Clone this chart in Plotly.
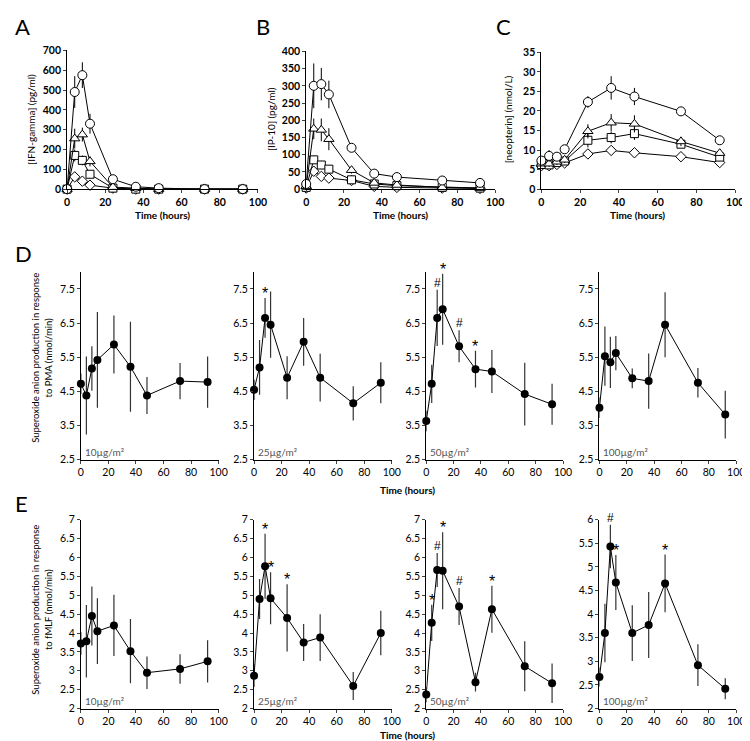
import plotly.graph_objects as go

W, H = 750, 741
times = [0, 4, 8, 12, 24, 36, 48, 72, 92]
x_ticks = [0, 20, 40, 60, 80, 100]

# Panel A: IFN-gamma (pg/ml)
ifn_circle = [0, 490, 575, 330, 50, 12, 5, 0, 0]
ifn_circle_err = [0, 80, 65, 50, 10, 3, 2, 0, 0]
ifn_triangle = [0, 255, 275, 140, 10, 5, 0, 0, 0]
ifn_triangle_err = [0, 50, 35, 25, 5, 2, 0, 0, 0]
ifn_square = [0, 170, 145, 75, 5, 0, 0, 0, 0]
ifn_square_err = [0, 30, 25, 15, 3, 0, 0, 0, 0]
ifn_diamond = [0, 62, 40, 20, 5, 0, 0, 0, 0]
ifn_diamond_err = [0, 12, 10, 6, 2, 0, 0, 0, 0]

# Panel B: IP-10 (pg/ml)
ip_circle = [15, 300, 305, 275, 120, 45, 35, 25, 18]
ip_circle_err = [3, 65, 47, 40, 12, 5, 4, 3, 3]
ip_triangle = [8, 175, 172, 145, 55, 18, 12, 5, 3]
ip_triangle_err = [2, 30, 33, 32, 10, 4, 3, 2, 1]
ip_square = [5, 85, 70, 58, 27, 15, 10, 5, 3]
ip_square_err = [2, 12, 12, 10, 6, 3, 2, 1, 1]
ip_diamond = [3, 52, 37, 32, 25, 8, 5, 3, 2]
ip_diamond_err = [1, 12, 12, 10, 6, 3, 2, 1, 1]

# Panel C: neopterin (nmol/L)
neo_circle = [7.3, 8.5, 8.3, 10.2, 22.3, 25.9, 23.7, 19.9, 12.5]
neo_circle_err = [0.8, 1.5, 1.0, 1.0, 1.5, 3.0, 2.2, 0.6, 0.6]
neo_triangle = [6.5, 6.5, 7.0, 7.5, 14.8, 17.0, 16.7, 12.2, 9.2]
neo_triangle_err = [0.6, 0.8, 0.8, 0.8, 1.8, 2.2, 2.2, 1.2, 0.6]
neo_square = [6.3, 6.2, 6.8, 7.2, 12.5, 13.2, 14.2, 11.5, 8.2]
neo_square_err = [0.5, 0.6, 0.6, 0.6, 1.8, 1.5, 1.6, 0.8, 0.5]
neo_diamond = [6.0, 6.0, 6.3, 6.7, 9.0, 9.9, 9.3, 8.3, 6.8]
neo_diamond_err = [0.4, 0.4, 0.4, 0.4, 0.6, 0.9, 0.7, 0.5, 0.4]

# Panel D: superoxide, PMA (nmol/min)
doses = ["10µg/m²", "25µg/m²", "50µg/m²", "100µg/m²"]
pma_vals = [
    [4.72, 4.38, 5.17, 5.42, 5.87, 5.22, 4.38, 4.80, 4.77],
    [4.55, 5.20, 6.65, 6.45, 4.90, 5.95, 4.90, 4.15, 4.75],
    [3.63, 4.72, 6.65, 6.90, 5.82, 5.15, 5.08, 4.42, 4.12],
    [4.02, 5.53, 5.35, 5.62, 4.88, 4.80, 6.45, 4.75, 3.82],
]
pma_errs = [
    [0.3, 1.14, 0.65, 1.40, 0.85, 1.32, 0.54, 0.53, 0.75],
    [0.3, 0.80, 0.58, 0.97, 0.63, 0.70, 0.70, 0.50, 0.60],
    [0.3, 0.56, 0.82, 1.04, 0.47, 0.54, 0.63, 0.92, 0.60],
    [0.3, 0.87, 0.75, 0.50, 0.29, 0.81, 0.95, 0.43, 0.70],
]
pma_marks = [
    {},
    {2: "*"},
    {2: "#", 3: "*", 4: "#", 5: "*"},
    {},
]

# Panel E: superoxide, fMLF (nmol/min)
fmlf_vals = [
    [3.72, 3.78, 4.45, 4.05, 4.20, 3.52, 2.95, 3.05, 3.25],
    [2.87, 4.90, 5.77, 4.92, 4.40, 3.75, 3.88, 2.60, 4.00],
    [2.37, 4.27, 5.67, 5.65, 4.70, 2.70, 4.63, 3.12, 2.67],
    [2.67, 3.60, 5.43, 4.67, 3.60, 3.77, 4.65, 2.92, 2.42],
]
fmlf_errs = [
    [0.3, 0.96, 0.78, 0.87, 0.81, 0.85, 0.43, 0.39, 0.56],
    [0.3, 0.53, 0.86, 0.69, 0.89, 0.49, 0.62, 0.37, 0.59],
    [0.2, 0.48, 0.45, 1.02, 0.49, 0.25, 0.62, 0.66, 0.52],
    [0.2, 0.62, 0.46, 0.58, 0.59, 0.70, 0.61, 0.44, 0.22],
]
fmlf_marks = [
    {},
    {2: "*", 3: "*", 4: "*"},
    {1: "*", 2: "#", 3: "*", 4: "#", 6: "*"},
    {2: "#", 3: "*", 6: "*"},
]

def fx(p):
    return p / W

def fy(p):
    return 1 - p / H

fig = go.Figure()
FONT = "Lato"
SYMFONT = "Liberation Sans"

# axis specs: (x_px_left, x_px_right, y_px_bottom, y_px_top, yrange, dtick, tick0, bold)
specs = [
    (57, 251, 178, 37, [0, 700], 100, 0, True),
    (300, 492, 178, 38, [0, 400], 50, 0, True),
    (539, 736, 178, 39, [0, 35], 5, 0, True),
]
d_x = [(71, 211), (247, 387), (422, 561), (598, 737)]
for (a, b) in d_x:
    specs.append((a, b, 453, 262, [2.5, 8], 1, 2.5, False))
for i, (a, b) in enumerate(d_x):
    rng = [2, 6] if i == 3 else [2, 7]
    specs.append((a, b, 706, 514, rng, 0.5, 2, False))

for i, (xl, xr, yb, yt, yr, dt, t0, bold) in enumerate(specs):
    n = "" if i == 0 else str(i + 1)
    tf = dict(family=FONT, size=10.5, color="#000000", weight="bold" if bold else "normal")
    fig.layout["xaxis" + n] = dict(
        domain=[fx(xl), fx(xr)], anchor="y" + n, range=[0, 100],
        tickmode="array", tickvals=x_ticks, ticks="outside", ticklen=3,
        showline=True, linecolor="black", linewidth=1, showgrid=False,
        zeroline=False, tickfont=tf, fixedrange=True,
    )
    fig.layout["yaxis" + n] = dict(
        domain=[fy(yb), fy(yt)], anchor="x" + n, range=yr,
        tick0=t0, dtick=dt, ticks="outside", ticklen=3,
        showline=True, linecolor="black", linewidth=1, showgrid=False,
        zeroline=False, tickfont=tf, fixedrange=True,
    )

def add_open(xa, ya, vals, errs, symbol, size):
    fig.add_trace(go.Scatter(
        x=times, y=vals, xaxis=xa, yaxis=ya, mode="lines+markers",
        line=dict(color="black", width=1),
        marker=dict(symbol=symbol, size=size, color="white",
                    line=dict(color="black", width=1)),
        error_y=dict(type="data", array=errs, visible=True, color="black",
                     thickness=1, width=0),
        cliponaxis=False, showlegend=False,
    ))

groups = [
    ("x", "y", [(ifn_diamond, ifn_diamond_err), (ifn_square, ifn_square_err),
                (ifn_triangle, ifn_triangle_err), (ifn_circle, ifn_circle_err)]),
    ("x2", "y2", [(ip_diamond, ip_diamond_err), (ip_square, ip_square_err),
                  (ip_triangle, ip_triangle_err), (ip_circle, ip_circle_err)]),
    ("x3", "y3", [(neo_diamond, neo_diamond_err), (neo_square, neo_square_err),
                  (neo_triangle, neo_triangle_err), (neo_circle, neo_circle_err)]),
]
symbols = [("diamond", 8), ("square", 8), ("triangle-up", 9), ("circle", 9)]
for xa, ya, series in groups:
    for (v, e), (s, sz) in zip(series, symbols):
        add_open(xa, ya, v, e, s, sz)

annotations = []

def add_filled(idx, vals, errs, marks):
    n = str(idx)
    fig.add_trace(go.Scatter(
        x=times, y=vals, xaxis="x" + n, yaxis="y" + n, mode="lines+markers",
        line=dict(color="black", width=1),
        marker=dict(symbol="circle", size=8, color="black"),
        error_y=dict(type="data", array=errs, visible=True, color="#333333",
                     thickness=1.2, width=0),
        cliponaxis=False, showlegend=False,
    ))
    for k, ch in marks.items():
        annotations.append(dict(
            x=times[k], y=vals[k] + errs[k], xref="x" + n, yref="y" + n,
            text=ch, showarrow=False, yanchor="bottom",
            yshift=-6 if ch == "*" else -2,
            font=dict(family=SYMFONT, size=16 if ch == "*" else 12, color="#000000"),
        ))

for i in range(4):
    add_filled(4 + i, pma_vals[i], pma_errs[i], pma_marks[i])
for i in range(4):
    add_filled(8 + i, fmlf_vals[i], fmlf_errs[i], fmlf_marks[i])

def txt(x, y, text, size=10, bold=False, angle=0, color="#000000", xanchor="center", yanchor="middle"):
    annotations.append(dict(
        x=fx(x), y=fy(y), xref="paper", yref="paper", text=text, showarrow=False,
        textangle=angle, xanchor=xanchor, yanchor=yanchor,
        font=dict(family=FONT, size=size, color=color, weight="bold" if bold else "normal"),
    ))

# panel letters
txt(2, 13, "A", size=22, xanchor="left")
txt(247, 13, "B", size=22, xanchor="left")
txt(491, 13, "C", size=22, xanchor="left")
txt(2, 243, "D", size=22, xanchor="left")
txt(2, 498, "E", size=22, xanchor="left")

# y titles
txt(21, 107, "[IFN-gamma] (pg/ml)", size=10, angle=-90)
txt(264, 107, "[IP-10] (pg/ml)", size=10, angle=-90)
txt(505, 107, "[neopterin] (nmol/L)", size=10, angle=-90)
txt(31, 350, "Superoxide anion production in response<br>to PMA (nmol/min)", size=9.5, angle=-90)
txt(31, 606, "Superoxide anion production in response<br>to fMLF (nmol/min)", size=9.5, angle=-90)

# x titles
txt(154, 204, "Time (hours)", size=10, bold=True)
txt(396, 204, "Time (hours)", size=10, bold=True)
txt(637, 204, "Time (hours)", size=10, bold=True)
txt(403, 484, "Time (hours)", size=10, bold=True)
txt(403, 733, "Time (hours)", size=10, bold=True)

# dose labels
for i, (a, b) in enumerate(d_x):
    txt(a + 2, 445, doses[i], size=10, color="#555555", xanchor="left")
    txt(a + 2, 698, doses[i], size=10, color="#555555", xanchor="left")

fig.update_layout(
    width=W, height=H, margin=dict(l=0, r=0, t=0, b=0),
    paper_bgcolor="white", plot_bgcolor="white",
    annotations=annotations, showlegend=False,
    font=dict(family=FONT, color="#000000"),
)

fig.write_html("out.html")
